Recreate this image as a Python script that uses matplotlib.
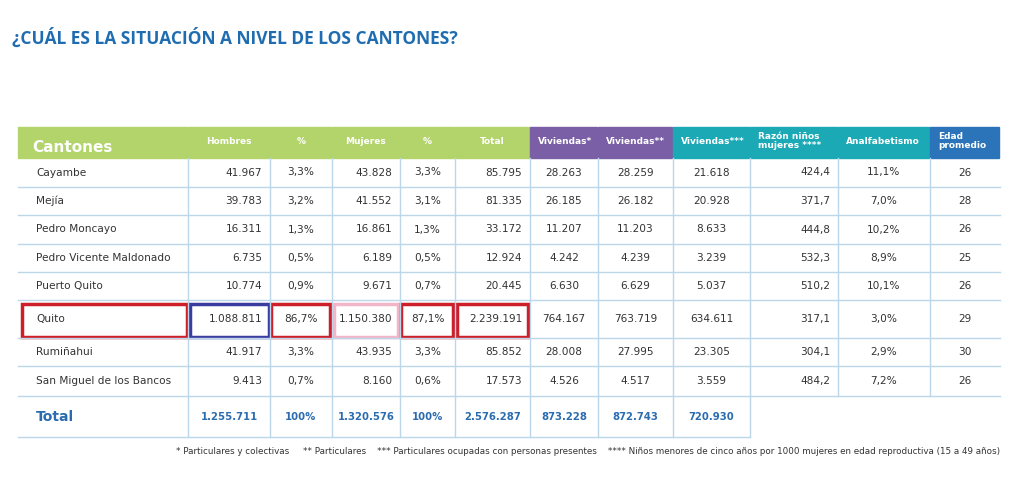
import matplotlib.pyplot as plt
from matplotlib.patches import Rectangle

cantones = ["Cayambe", "Mejía", "Pedro Moncayo", "Pedro Vicente Maldonado",
            "Puerto Quito", "Quito", "Rumiñahui", "San Miguel de los Bancos"]
hombres = ["41.967", "39.783", "16.311", "6.735", "10.774", "1.088.811", "41.917", "9.413"]
pct_h = ["3,3%", "3,2%", "1,3%", "0,5%", "0,9%", "86,7%", "3,3%", "0,7%"]
mujeres = ["43.828", "41.552", "16.861", "6.189", "9.671", "1.150.380", "43.935", "8.160"]
pct_m = ["3,3%", "3,1%", "1,3%", "0,5%", "0,7%", "87,1%", "3,3%", "0,6%"]
total = ["85.795", "81.335", "33.172", "12.924", "20.445", "2.239.191", "85.852", "17.573"]
viv1 = ["28.263", "26.185", "11.207", "4.242", "6.630", "764.167", "28.008", "4.526"]
viv2 = ["28.259", "26.182", "11.203", "4.239", "6.629", "763.719", "27.995", "4.517"]
viv3 = ["21.618", "20.928", "8.633", "3.239", "5.037", "634.611", "23.305", "3.559"]
razon = ["424,4", "371,7", "444,8", "532,3", "510,2", "317,1", "304,1", "484,2"]
analf = ["11,1%", "7,0%", "10,2%", "8,9%", "10,1%", "3,0%", "2,9%", "7,2%"]
edad = ["26", "28", "26", "25", "26", "29", "30", "26"]
totales = ["Total", "1.255.711", "100%", "1.320.576", "100%", "2.576.287",
           "873.228", "872.743", "720.930"]
headers = ["Cantones", "Hombres", "%", "Mujeres", "%", "Total", "Viviendas*",
           "Viviendas**", "Viviendas***", "Razón niños\nmujeres ****",
           "Analfabetismo", "Edad\npromedio"]

green, purple, teal, blue = "#b3d36b", "#7a5fa6", "#1aa9b5", "#2b74b9"
hcolors = [green] * 6 + [purple] * 2 + [teal] * 3 + [blue]
xs = [18, 188, 270, 332, 400, 455, 530, 598, 673, 750, 838, 930, 1000]
ys = [158, 187, 215, 244, 272, 300, 338, 366, 396, 437]
align = ["left", "right", "center", "right", "center", "right",
         "center", "center", "center", "right", "center", "center"]
line = "#bcd6ea"

fig = plt.figure(figsize=(10.24, 4.84), dpi=100)
ax = fig.add_axes([0, 0, 1, 1])
ax.set_xlim(0, 1024)
ax.set_ylim(484, 0)
ax.axis("off")

ax.text(12, 38, "¿CUÁL ES LA SITUACIÓN A NIVEL DE LOS CANTONES?", color="#1f6db0",
        fontsize=12.5, fontweight="bold", va="center", family="Open Sans")

for i, h in enumerate(headers):
    x0, x1 = xs[i], xs[i + 1]
    ax.add_patch(Rectangle((x0, 127), x1 - x0 - 1.5, 31, color=hcolors[i]))
    if i == 0:
        ax.text(x0 + 14, 147, h, color="white", fontsize=11, fontweight="bold", va="center")
    elif "\n" in h:
        ax.text(x0 + 8, 141, h, color="white", fontsize=6.5, fontweight="bold",
                va="center", linespacing=1.0)
    else:
        ax.text(x0 + 8 if i >= 6 else (x0 + x1) / 2, 141, h, color="white",
                fontsize=6.5, fontweight="bold", va="center",
                ha="left" if i >= 6 else "center")

cols = [cantones, hombres, pct_h, mujeres, pct_m, total, viv1, viv2, viv3, razon, analf, edad]
for r in range(len(cantones)):
    y0, y1 = ys[r], ys[r + 1]
    yc = (y0 + y1) / 2
    ax.plot([18, 1000], [y1, y1], color=line, lw=1)
    for c, col in enumerate(cols):
        a = align[c]
        if a == "left":
            xt = xs[c] + 18
        elif a == "right":
            xt = xs[c + 1] - 8
        else:
            xt = (xs[c] + xs[c + 1]) / 2
        ax.text(xt, yc, col[r], ha=a, va="center", fontsize=7.6, color="#333333")

ax.plot([18, 750], [437, 437], color=line, lw=1)
for c, t in enumerate(totales):
    xt = xs[c] + 18 if c == 0 else (xs[c] + xs[c + 1]) / 2
    ax.text(xt, 417, t, ha="left" if c == 0 else "center", va="center", color="#2b6cb0",
            fontsize=10 if c == 0 else 7.3, fontweight="bold")

for c in range(1, 12):
    ax.plot([xs[c], xs[c]], [158, 437 if c <= 9 else 396], color=line, lw=1)

# boxes around Quito row
boxes = [(22, 187, "#cc1f2a"), (190, 269, "#3b3ca0"), (271, 330, "#cc1f2a"),
         (334, 398, "#f2b6c8"), (401, 453, "#cc1f2a"), (457, 528, "#cc1f2a")]
for x0, x1, ec in boxes:
    ax.add_patch(Rectangle((x0, 304), x1 - x0, 33, fill=False, ec=ec, lw=2.5))

ax.text(1000, 452, "* Particulares y colectivas     ** Particulares    *** Particulares ocupadas "
        "con personas presentes    **** Niños menores de cinco años por 1000 mujeres en edad "
        "reproductiva (15 a 49 años)", ha="right", va="center", fontsize=6.3, color="#333333")

fig.savefig("out.png", dpi=100, facecolor="white")
